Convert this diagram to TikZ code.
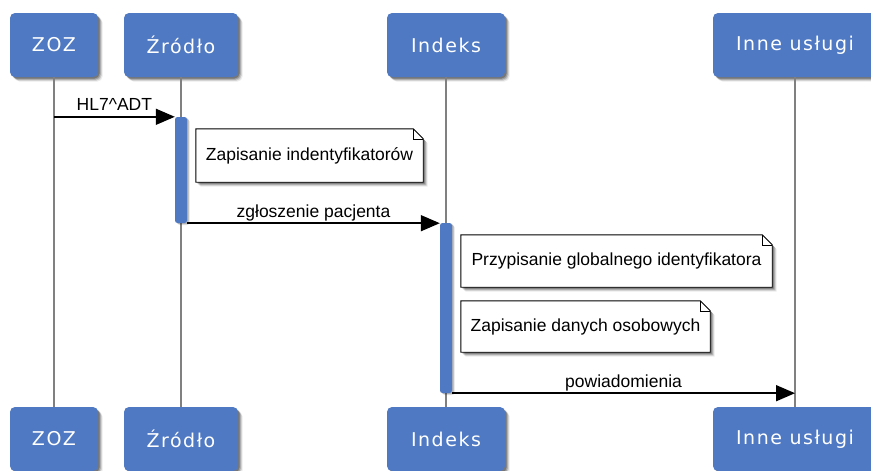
\documentclass[tikz,border=0pt]{standalone}
\usepackage{fontspec}
\setmainfont{Liberation Sans}
\newfontfamily\boxfont[LetterSpace=8]{DejaVu Sans}
\usetikzlibrary{arrows.meta,shadows,calc}
\definecolor{actblue}{RGB}{79,121,195}
\definecolor{lifegray}{RGB}{128,128,128}
\pgfdeclarelayer{bg}
\pgfsetlayers{bg,main}
\begin{document}
\begin{tikzpicture}[x=1pt,y=-1pt,
  softshadow/.style={
    drop shadow={shadow xshift=4.5pt,shadow yshift=-4.5pt,opacity=0.08,fill=black},
    drop shadow={shadow xshift=3.5pt,shadow yshift=-3.5pt,opacity=0.15,fill=black},
    drop shadow={shadow xshift=2.5pt,shadow yshift=-2.5pt,opacity=0.2,fill=black},
    drop shadow={shadow xshift=1.5pt,shadow yshift=-1.5pt,opacity=0.25,fill=black}},
  smallshadow/.style={
    drop shadow={shadow xshift=2.5pt,shadow yshift=-2pt,opacity=0.12,fill=black},
    drop shadow={shadow xshift=1.5pt,shadow yshift=-1pt,opacity=0.2,fill=black}},
  actor/.style={fill=actblue, rounded corners=5pt, text=white,
    font=\boxfont\fontsize{19}{22}\selectfont, minimum height=64pt, inner sep=0pt, softshadow},
  actbar/.style={fill=actblue, rounded corners=2.5pt, minimum width=12pt, inner sep=0pt, smallshadow},
  lifeline/.style={draw=lifegray, line width=2pt},
  msg/.style={draw=black, line width=1.6pt, -{Triangle[length=19pt,width=16pt]}},
  lbl/.style={font=\fontsize{17.5}{20}\selectfont, inner sep=0pt, anchor=base, yshift=6pt},
  notetext/.style={font=\fontsize{17.5}{20}\selectfont, inner sep=0pt},
  notebg/.style={fill=white, softshadow},
  noteline/.style={draw=black, line width=0.9pt, line join=miter}
]
\useasboundingbox (0,0) rectangle (871,471);
\clip (0,0) rectangle (871,471);
\begin{pgfonlayer}{bg}
  \fill[white] (0,0) rectangle (871,471);
\end{pgfonlayer}

% participants (top)
\node[actor, minimum width=88pt]  (zoz)  at (54,45)  {ZOZ};
\node[actor, minimum width=114pt] (zr)   at (181,45) {Źródło};
\node[actor, minimum width=118pt] (idx)  at (446,45) {Indeks};
\node[actor, minimum width=164pt] (inne) at (795,45) {Inne usługi};
% participants (bottom)
\node[actor, minimum width=88pt]  (zozb)  at (54,439)  {ZOZ};
\node[actor, minimum width=114pt] (zrb)   at (181,439) {Źródło};
\node[actor, minimum width=118pt] (idxb)  at (446,439) {Indeks};
\node[actor, minimum width=164pt] (inneb) at (795,439) {Inne usługi};

% lifelines
\draw[lifeline] (zoz.south) -- (zozb.north);
\draw[lifeline] (zr.south) -- (zrb.north);
\draw[lifeline] (idx.south) -- (idxb.north);
\draw[lifeline] (inne.south) -- (inneb.north);

% activation bars
\node[actbar, minimum height=106pt] (bar1) at (181,170) {};
\node[actbar, minimum height=170pt] (bar2) at (446,308) {};

% messages
\draw[msg] (zoz.south |- bar1.north) -- node[lbl]{HL7\textasciicircum ADT} (bar1.north west);
\draw[msg] (bar1.south east) -- node[lbl]{zgłoszenie pacjenta} (bar1.south east -| bar2.west);
\draw[msg] (bar2.south east) -- node[lbl]{powiadomienia} (bar2.south east -| inne.south);

% notes
\node[notetext, minimum width=227pt, minimum height=53pt] (n1) at (309.5,155.5) {Zapisanie indentyfikatorów};
\node[notetext, minimum width=311pt, minimum height=52pt] (n2) at (616.5,261) {Przypisanie globalnego identyfikatora};
\node[notetext, minimum width=249pt, minimum height=51pt] (n3) at (585.5,326.5) {Zapisanie danych osobowych};

\begin{pgfonlayer}{bg}
\foreach \n in {n1,n2,n3}{
  \path[notebg] (\n.north west) -- ([xshift=-10pt]\n.north east) -- ([yshift=-10pt]\n.north east) -- (\n.south east) -- (\n.south west) -- cycle;
  \draw[noteline] (\n.north west) -- ([xshift=-10pt]\n.north east) -- ([yshift=-10pt]\n.north east) -- (\n.south east) -- (\n.south west) -- cycle;
  \draw[noteline, line width=0.6pt] ([xshift=-10pt]\n.north east) -- ([xshift=-10pt,yshift=-10pt]\n.north east) -- ([yshift=-10pt]\n.north east);
}
\end{pgfonlayer}
\end{tikzpicture}
\end{document}
